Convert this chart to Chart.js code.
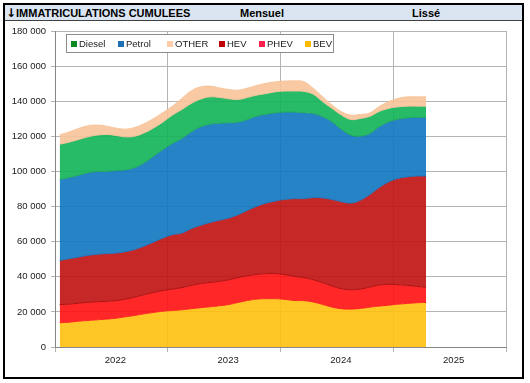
<!DOCTYPE html>
<html><head><meta charset="utf-8">
<script src="https://cdn.jsdelivr.net/npm/chart.js@4"></script>
<style>
html,body{margin:0;padding:0;background:#fff;}
#wrap{position:relative;width:530px;height:383px;overflow:hidden;}
#c{position:absolute;left:0;top:0;}
#frame{position:absolute;left:3px;top:3px;width:517px;height:372px;border:2px solid #000;pointer-events:none;}
#hdr{position:absolute;left:0;top:0;width:517px;height:15px;background:#DBE5F1;border-bottom:1px solid #404040;font:bold 11px 'Liberation Sans',Arial,sans-serif;color:#000;}
#hdr span{position:absolute;top:2px;line-height:13px;white-space:nowrap;}
#hdr span.arr{font:bold 12px 'DejaVu Sans',sans-serif;top:1px;}
</style></head>
<body><div id="wrap"><canvas id="c" width="530" height="383"></canvas>
<div id="frame"><div id="hdr"><span class="arr" style="left:1px">↓</span><span style="left:11px">IMMATRICULATIONS CUMULEES</span><span style="left:235px">Mensuel</span><span style="left:407px">Lissé</span></div></div></div>
<script>
const categories = ['2022','2023','2024','2025'];
const months = ['2022-01','2022-02','2022-03','2022-04','2022-05','2022-06','2022-07','2022-08','2022-09','2022-10','2022-11','2022-12',
  '2023-01','2023-02','2023-03','2023-04','2023-05','2023-06','2023-07','2023-08','2023-09','2023-10','2023-11','2023-12',
  '2024-01','2024-02','2024-03','2024-04','2024-05','2024-06','2024-07','2024-08','2024-09','2024-10','2024-11','2024-12',
  '2025-01','2025-02','2025-03','2025-04'];
const yTicks = [0,20000,40000,60000,80000,100000,120000,140000,160000,180000];
// values in thousands of registrations (smoothed, monthly)
const BEV    = [13.8,14.1,14.7,15.1,15.5,15.9,16.4,17.2,18.0,18.9,19.7,20.4,20.8,21.2,21.8,22.4,22.9,23.5,24.2,25.4,26.5,27.3,27.5,27.5,27.1,26.5,26.4,25.6,24.2,22.7,21.8,21.6,22.0,22.7,23.3,23.8,24.4,24.8,25.2,25.4];
const PHEV   = [10.3,10.3,10.3,10.3,10.3,10.1,10.0,10.1,10.4,10.9,11.4,11.8,12.2,12.6,13.3,13.7,13.9,13.9,14.1,14.1,14.1,14.1,14.3,14.3,14.1,13.7,13.1,12.7,12.4,12.0,11.4,11.0,11.0,11.4,12.0,11.9,11.1,10.3,9.3,8.7];
const HEV    = [25.2,25.9,26.2,26.8,27.0,27.2,27.1,27.0,27.2,27.7,28.7,29.9,31.0,31.1,32.3,33.2,34.1,34.8,35.2,35.9,37.3,38.8,40.2,41.4,42.9,44.3,45.0,46.8,48.3,49.3,49.6,49.4,50.6,52.7,55.5,58.3,60.5,61.8,62.9,63.3];
const Petrol = [46.1,46.2,46.6,47.0,47.2,46.9,47.0,46.6,46.6,47.4,48.9,50.4,51.9,53.9,55.1,56.1,56.0,55.3,54.2,52.7,51.7,51.3,50.6,50.2,49.7,49.3,48.9,47.9,46.2,44.2,41.1,38.7,36.5,34.8,34.6,34.2,33.8,33.6,33.4,33.4];
const Diesel = [20.1,20.2,20.4,20.5,20.7,21.0,20.0,18.8,17.9,17.1,16.1,15.7,16.2,16.5,16.2,15.8,15.6,14.7,13.7,12.9,12.6,12.0,11.8,12.0,12.0,12.0,12.2,11.0,8.6,7.7,8.2,8.9,10.1,9.8,8.8,7.7,7.0,6.7,6.4,6.4];
const OTHER  = [5.3,5.8,6.3,6.3,5.7,4.7,4.2,4.4,5.0,5.3,5.4,5.4,5.1,6.3,7.2,7.0,6.1,5.4,5.3,5.3,5.3,5.5,5.9,5.7,5.7,5.8,5.5,3.3,2.8,1.9,1.9,2.5,2.3,1.9,2.8,3.8,4.8,5.3,5.3,5.3];

const FONT = "'Liberation Sans', Arial, sans-serif";
Chart.defaults.font.family = FONT;

const series = [
  {label:'BEV',    data:BEV,    fill:'rgba(255,193,14,0.9)',  border:'#FF2020', legend:'#FFBA00'},
  {label:'PHEV',   data:PHEV,   fill:'rgba(255,16,16,0.9)',   border:'#A80E0E', legend:'#FF1F4F'},
  {label:'HEV',    data:HEV,    fill:'rgba(192,16,16,0.9)',   border:'#1C72BA', legend:'#C00000'},
  {label:'Petrol', data:Petrol, fill:'rgba(14,117,192,0.9)',  border:'#1DA85A', legend:'#1F6FB4'},
  {label:'Diesel', data:Diesel, fill:'rgba(16,179,87,0.9)',   border:'#F4C29C', legend:'#0A8A1E'},
  {label:'OTHER',  data:OTHER,  fill:'rgba(247,195,152,0.9)', border:'rgba(247,195,152,0.9)', legend:'#FFCBA8'}
];

const datasets = series.map((s,i)=>({
  label:s.label,
  xAxisID:'xd',
  data:s.data.map((v,k)=>({x:k+0.5, y:v*1000})),
  backgroundColor:s.fill,
  borderColor:s.border,
  borderWidth:1,
  pointRadius:0,
  tension:0.4,
  fill: i===0 ? 'origin' : '-1'
}));

const legendOrder = ['Diesel','Petrol','OTHER','HEV','PHEV','BEV'];
const legendX = [71,118,167,219,259,305];
const boxLegend = {
  id:'boxLegend',
  afterDraw(chart){
    const ctx = chart.ctx;
    ctx.save();
    ctx.fillStyle='#fff';
    ctx.fillRect(66.5,34.5,267,18);
    ctx.strokeStyle='#8C8C8C';
    ctx.lineWidth=1;
    ctx.strokeRect(66.5,34.5,267,18);
    ctx.font = "9.5px " + FONT;
    ctx.textBaseline='middle';
    legendOrder.forEach((name,i)=>{
      const s = series.find(q=>q.label===name);
      ctx.fillStyle = s.legend;
      ctx.fillRect(legendX[i],41,6,6);
      ctx.fillStyle='#1a1a1a';
      ctx.fillText(name, legendX[i]+8, 44);
    });
    ctx.restore();
  }
};

new Chart(document.getElementById('c'), {
  type:'line',
  data:{labels:categories, datasets},
  options:{
    responsive:false,
    animation:false,
    layout:{padding:{left:0,right:24,top:31,bottom:16}},
    plugins:{legend:{display:false}, tooltip:{enabled:false}},
    scales:{
      x:{
        type:'category',
        labels:categories,
        offset:true,
        grid:{offset:true, color:'#B4B4B4', tickLength:5, drawTicks:true},
        border:{color:'#868686'},
        ticks:{color:'#1a1a1a', font:{size:9.5}, padding:3, labelOffset:4, maxRotation:0},
        afterFit(s){ s.height = 20; }
      },
      xd:{type:'linear', min:0, max:48, display:false},
      y:{
        stacked:true,
        min:0, max:180000,
        afterBuildTicks(s){ s.ticks = yTicks.map(v=>({value:v})); },
        grid:{color:'#B4B4B4', tickLength:4},
        border:{color:'#868686'},
        ticks:{color:'#1a1a1a', font:{size:9.5}, padding:5,
          callback:v=>String(v).replace(/\B(?=(\d{3})+(?!\d))/g,' ')},
        afterFit(s){ s.width = 55; }
      }
    }
  },
  plugins:[boxLegend]
});
</script>
</body></html>
